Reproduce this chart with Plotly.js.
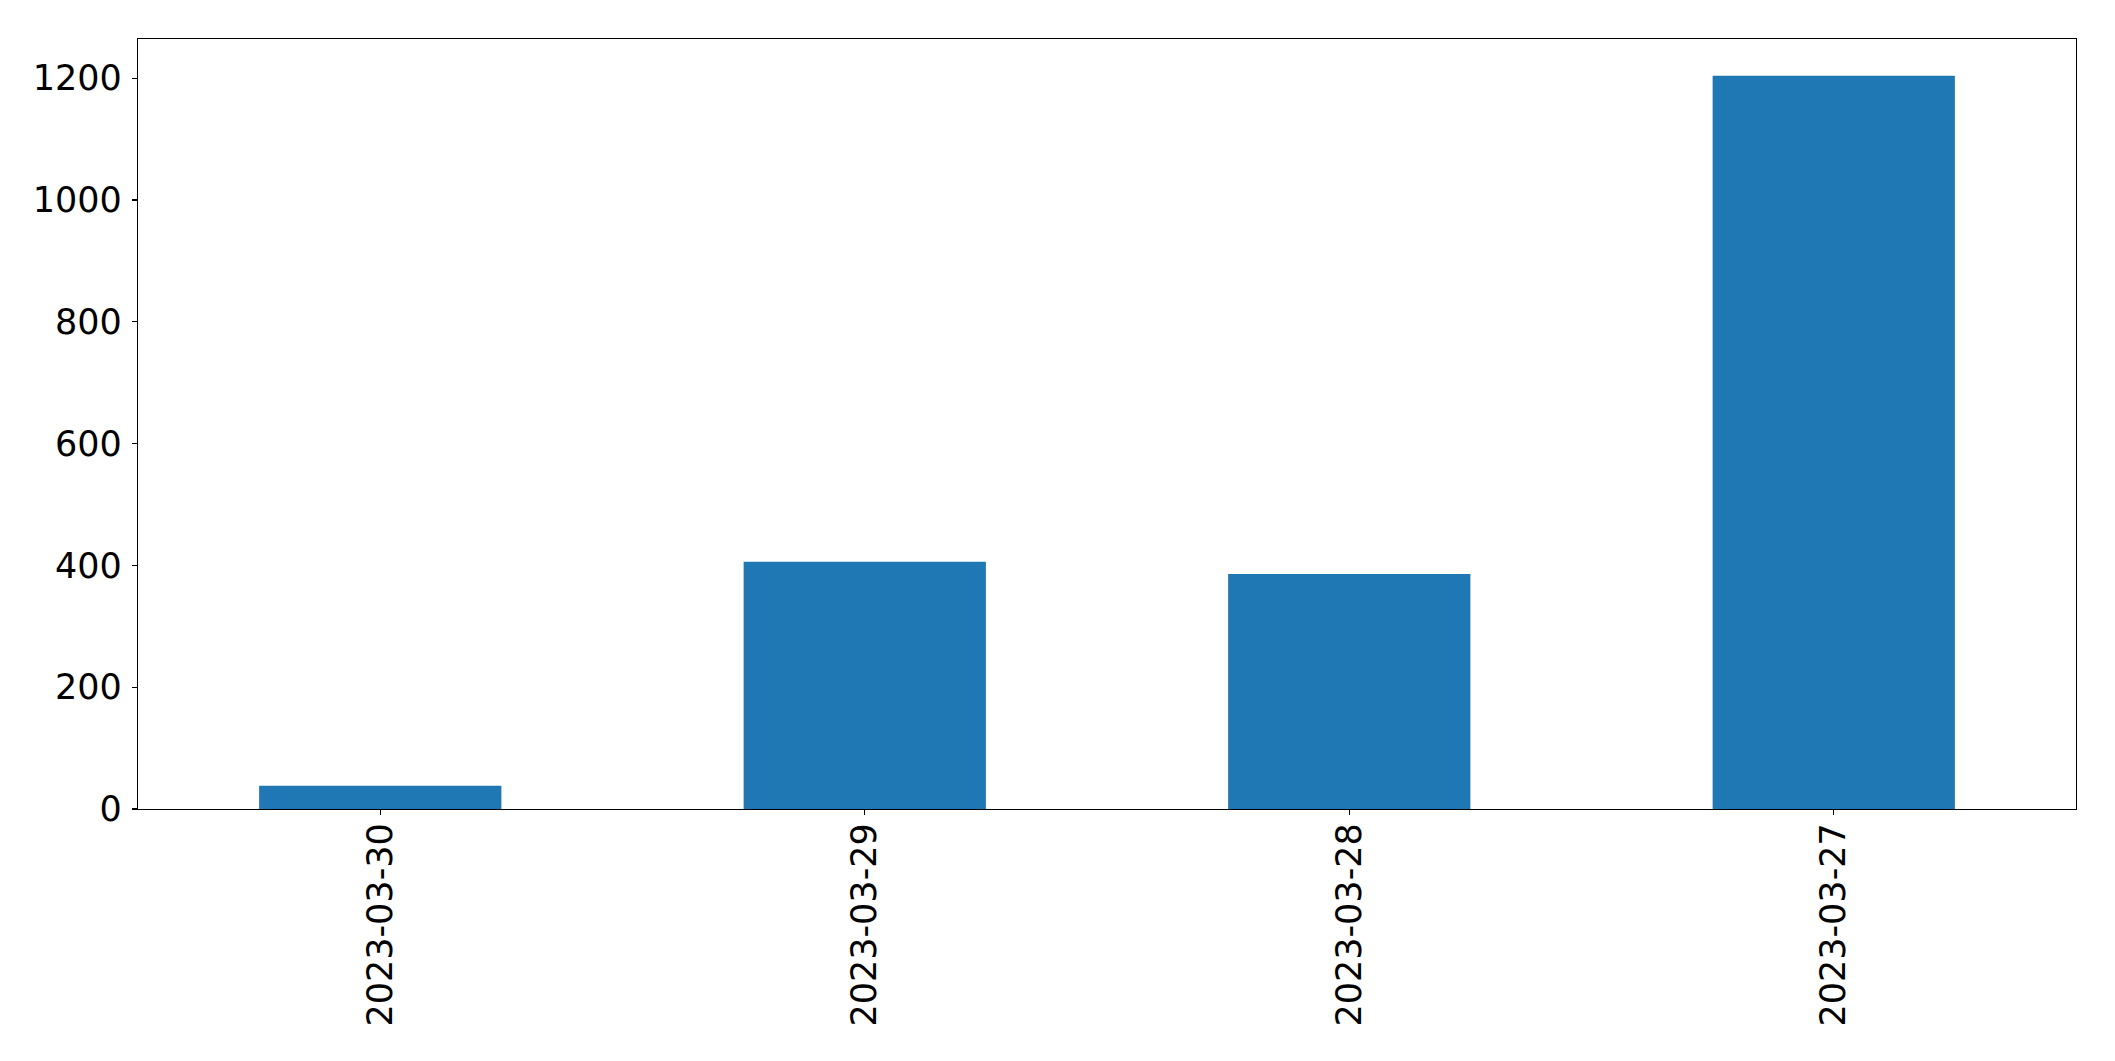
<!DOCTYPE html>
<html>
<head>
<meta charset="utf-8">
<script src="https://cdn.plot.ly/plotly-3.0.1.min.js"></script>
<style>html,body{margin:0;padding:0;background:#fff;}#chart{width:2115px;height:1061px;}</style>
</head>
<body>
<div id="chart"></div>
<script>
const categories = ["2023-03-30", "2023-03-29", "2023-03-28", "2023-03-27"];
const values = [38, 406, 386, 1204];
const yTicks = [0, 200, 400, 600, 800, 1000, 1200];

const trace = {
  type: "bar",
  x: categories,
  y: values,
  width: 0.5,
  marker: {color: "#1f77b4", line: {width: 0}},
  hoverinfo: "x+y"
};

const font = {family: "DejaVu Sans, sans-serif", size: 35, color: "#000"};

const layout = {
  width: 2115,
  height: 1061,
  margin: {l: 138, r: 39, t: 39, b: 252, pad: 0},
  paper_bgcolor: "#fff",
  plot_bgcolor: "#fff",
  showlegend: false,
  font: font,
  bargap: 0.5,
  xaxis: {
    type: "category",
    range: [-0.5, 3.5],
    tickangle: -90,
    ticks: "outside",
    ticklen: 5,
    tickwidth: 1.2,
    tickcolor: "#000",
    showline: true,
    linecolor: "#000",
    linewidth: 1.2,
    mirror: true,
    showgrid: false,
    zeroline: false,
    tickfont: font,
    ticklabelstandoff: -6
  },
  yaxis: {
    range: [0, Math.max(...values) * 1.05],
    tickmode: "array",
    tickvals: yTicks,
    ticktext: yTicks.map(String),
    ticks: "outside",
    ticklen: 5,
    tickwidth: 1.2,
    tickcolor: "#000",
    showline: true,
    linecolor: "#000",
    linewidth: 1.2,
    mirror: true,
    showgrid: false,
    zeroline: false,
    tickfont: font,
    ticklabelstandoff: 3
  }
};

Plotly.newPlot("chart", [trace], layout, {displayModeBar: false, staticPlot: true});
</script>
</body>
</html>
